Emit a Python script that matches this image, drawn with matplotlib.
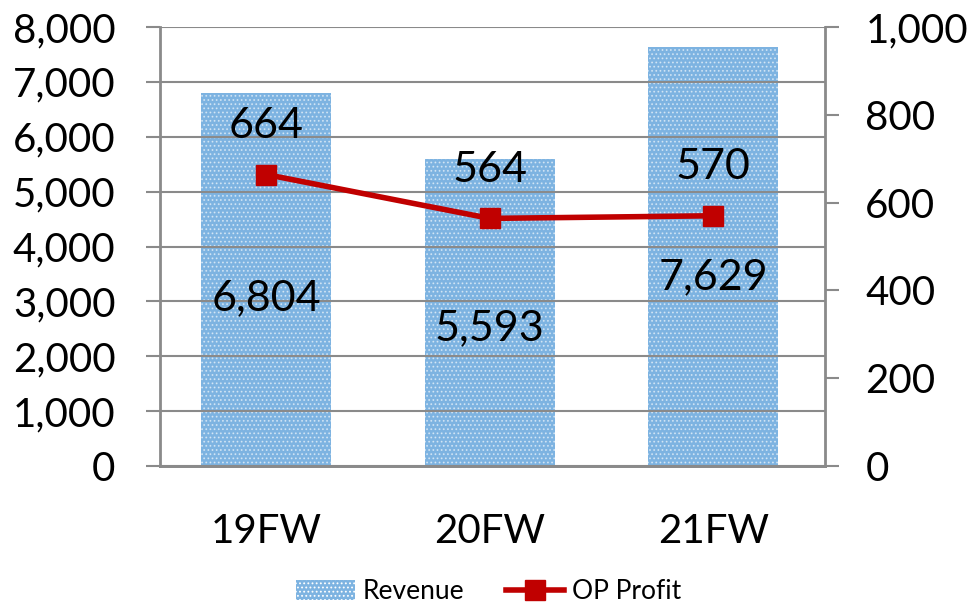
import numpy as np
import matplotlib.pyplot as plt
from matplotlib.patches import Patch
from matplotlib.lines import Line2D
from matplotlib.ticker import FuncFormatter

periods = ["19FW", "20FW", "21FW"]
revenue = [6804, 5593, 7629]
op_profit = [664, 564, 570]

plt.rcParams['font.family'] = ['Lato', 'DejaVu Sans']
plt.rcParams['hatch.color'] = 'white'
plt.rcParams['hatch.linewidth'] = 0.8

bar_color = '#7db3e1'
line_color = '#c00000'
axis_gray = '#8a8a8a'

fig = plt.figure(figsize=(9.78, 6.11), dpi=100)
ax = fig.add_axes([0.1636, 0.2373, 0.68, 0.7185])
ax2 = ax.twinx()

x = np.arange(len(periods))
ax.bar(x, revenue, width=0.58, color=bar_color, edgecolor='none', zorder=1)
ax.bar(x, revenue, width=0.58, fill=False, hatch='....', edgecolor='white',
       linewidth=0, alpha=0.55, zorder=2)

ax.set_ylim(0, 8000)
ax.set_yticks(np.arange(0, 8001, 1000))
ax.yaxis.set_major_formatter(FuncFormatter(lambda v, p: f"{int(v):,}"))
ax.set_xlim(-0.475, 2.5)
ax.set_xticks(x)
ax.set_xticklabels(periods)
ax.grid(axis='y', color=axis_gray, linewidth=1.5, zorder=3)
ax.set_axisbelow(False)

for i, v in enumerate(revenue):
    ax.text(i, v * 0.45, f"{v:,}", ha='center', va='center', fontsize=31, zorder=5)

ax2.plot(x, op_profit, color=line_color, linewidth=4, marker='s', markersize=15,
         zorder=4)
ax2.set_ylim(0, 1000)
ax2.set_yticks(np.arange(0, 1001, 200))
ax2.yaxis.set_major_formatter(FuncFormatter(lambda v, p: f"{int(v):,}"))

for i, v in enumerate(op_profit):
    ax2.annotate(str(v), (i, v), xytext=(0, 35), textcoords='offset points',
                 ha='center', va='center', fontsize=31)

for a in (ax, ax2):
    a.spines['top'].set_visible(False)
    for side in ('left', 'right', 'bottom'):
        a.spines[side].set_color(axis_gray)
        a.spines[side].set_linewidth(2)
ax.tick_params(axis='y', length=10, width=1.5, color=axis_gray, labelsize=29, pad=22)
ax2.tick_params(axis='y', length=10, width=1.5, color=axis_gray, labelsize=29, pad=19)
ax.tick_params(axis='x', length=0, labelsize=29, pad=34)
ax2.spines['left'].set_visible(False)
ax.spines['right'].set_visible(False)

handles = [Patch(facecolor=bar_color, hatch='....', edgecolor='white', linewidth=0, label='Revenue'),
           Line2D([0], [0], color=line_color, linewidth=4, marker='s', markersize=14,
                  label='OP Profit')]
fig.legend(handles=handles, loc='lower center', bbox_to_anchor=(0.5, -0.028), ncol=2,
           frameon=False, fontsize=19, handlelength=2.2, handleheight=0.8,
           columnspacing=1.6, handletextpad=0.3)

fig.savefig("out.png", dpi=100)
